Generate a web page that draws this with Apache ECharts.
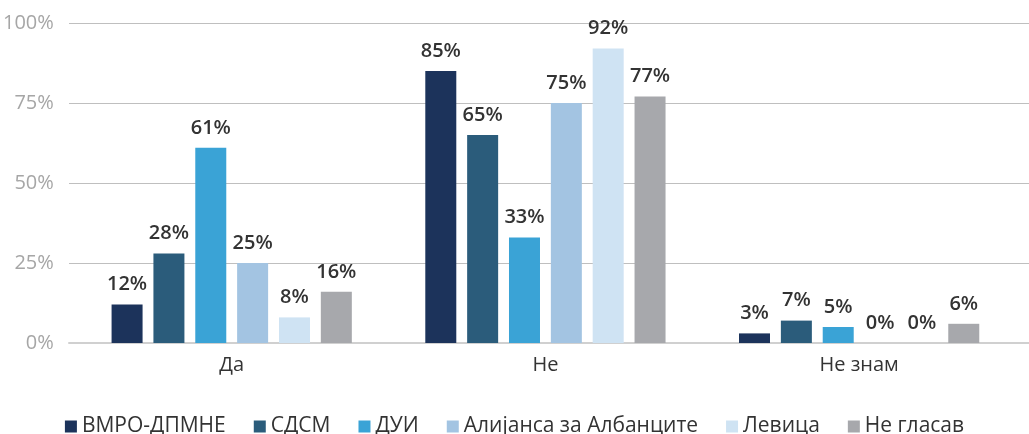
<!DOCTYPE html>
<html>
<head>
<meta charset="utf-8">
<script src="https://cdn.jsdelivr.net/npm/echarts@6/dist/echarts.min.js"></script>
<style>
  html, body { margin: 0; padding: 0; background: #fff; }
  #chart { width: 1029px; height: 434px; }
</style>
</head>
<body>
<div id="chart"></div>
<script>
const categories = ['Да', 'Не', 'Не знам']
const seriesNames = ['ВМРО-ДПМНЕ', 'СДСМ', 'ДУИ', 'Алијанса за Албанците', 'Левица', 'Не гласав']
const vmro = [12, 85, 3]
const sdsm = [28, 65, 7]
const dui = [61, 33, 5]
const alijansa = [25, 75, 0]
const levica = [8, 92, 0]
const neGlasav = [16, 77, 6]
const colors = ['#1c335b', '#2b5c7b', '#3aa3d6', '#a3c4e2', '#cfe3f3', '#a7a8ac']

const values = [vmro, sdsm, dui, alijansa, levica, neGlasav]

const chart = echarts.init(document.getElementById('chart'))

const option = {
  animation: false,
  textStyle: { fontFamily: 'Open Sans' },
  grid: [
    // bars
    { left: 73, right: 13, top: 23, bottom: 91 },
    // gridlines run to the right edge
    { left: 69, right: 0, top: 23, bottom: 91 }
  ],
  legend: {
    top: 411,
    left: 'center',
    icon: 'rect',
    itemWidth: 12,
    itemHeight: 12,
    itemGap: 28,
    textStyle: { fontSize: 21, color: '#333', fontFamily: 'Open Sans' },
    data: seriesNames
  },
  xAxis: [
    {
      type: 'category',
      gridIndex: 0,
      data: categories,
      axisLine: { show: false },
      axisTick: { show: false },
      axisLabel: { fontSize: 20, color: '#333', margin: 12 }
    },
    {
      type: 'category',
      gridIndex: 1,
      data: categories,
      axisLine: { lineStyle: { color: '#d0d0d0', width: 2 } },
      axisTick: { show: false },
      axisLabel: { show: false }
    }
  ],
  yAxis: [
    {
      type: 'value',
      gridIndex: 0,
      min: 0,
      max: 100,
      interval: 25,
      axisLine: { show: false },
      axisTick: { show: false },
      splitLine: { show: false },
      axisLabel: {
        fontSize: 20,
        color: '#a6a6a6',
        margin: 21,
        formatter: '{value}%'
      }
    },
    {
      type: 'value',
      gridIndex: 1,
      min: 0,
      max: 100,
      interval: 25,
      axisLine: { show: false },
      axisTick: { show: false },
      axisLabel: { show: false },
      splitLine: { lineStyle: { color: '#bfbfbf', width: 1 } }
    }
  ],
  series: seriesNames.map((name, i) => ({
    name: name,
    type: 'bar',
    xAxisIndex: 0,
    yAxisIndex: 0,
    data: values[i],
    barWidth: 31,
    barGap: '35%',
    itemStyle: { color: colors[i] },
    label: {
      show: true,
      position: 'top',
      distance: 10,
      formatter: '{c}%',
      fontSize: 20,
      fontWeight: 600,
      color: '#333'
    }
  }))
}

chart.setOption(option)
</script>
</body>
</html>
